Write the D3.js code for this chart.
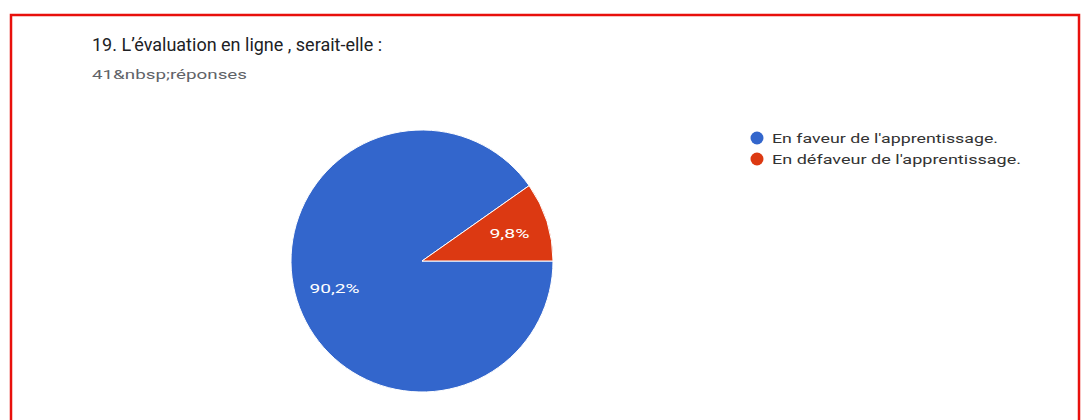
<!DOCTYPE html>
<html>
<head>
<meta charset="utf-8">
<script src="https://cdn.jsdelivr.net/npm/d3@7/dist/d3.min.js"></script>
<style>
  html, body { margin: 0; padding: 0; background: #fff; }
  svg { display: block; }
</style>
</head>
<body>
<svg id="chart" width="1082" height="420"></svg>
<script>
const title = "19. L’évaluation en ligne , serait-elle :";
const subtitle = "41&nbsp;réponses";
const categories = ["En faveur de l'apprentissage.", "En défaveur de l'apprentissage."];
const values = [37, 4];
const percentLabels = ["90,2%", "9,8%"];
const colors = ["#3366cc", "#dc3912"];

const svg = d3.select("#chart");

// frame
svg.append("rect")
  .attr("x", 11).attr("y", 15)
  .attr("width", 1068).attr("height", 420)
  .attr("fill", "#fff")
  .attr("stroke", "#e8100c")
  .attr("stroke-width", 2.5);

svg.append("text")
  .attr("x", 92).attr("y", 51)
  .attr("font-family", "Roboto, 'Open Sans', sans-serif")
  .attr("font-size", 18)
  .attr("fill", "#202124")
  .text(title);

svg.append("text")
  .attr("x", 92).attr("y", 79)
  .attr("font-family", "Roboto, Arial, sans-serif")
  .attr("font-size", 12)
  .attr("fill", "#5f6368")
  .attr("textLength", 155)
  .attr("lengthAdjust", "spacingAndGlyphs")
  .text(subtitle);

const cx = 422, cy = 261, r = 131;
const pie = d3.pie().sort(null)
  .startAngle(Math.PI / 2).endAngle(Math.PI / 2 + 2 * Math.PI);
const arcs = pie(values);
const arc = d3.arc().innerRadius(0).outerRadius(r);
const labelArc = d3.arc().innerRadius(r * 0.7).outerRadius(r * 0.7);

const g = svg.append("g").attr("transform", `translate(${cx},${cy})`);
g.selectAll("path").data(arcs).join("path")
  .attr("d", arc)
  .attr("fill", (d, i) => colors[i])
  .attr("stroke", "#fff")
  .attr("stroke-width", 1);

const labelWidths = [50, 40];
g.selectAll("text.lbl").data(arcs).join("text")
  .attr("class", "lbl")
  .attr("x", (d, i) => labelArc.centroid(d)[0] - labelWidths[i] / 2)
  .attr("y", d => labelArc.centroid(d)[1])
  .attr("dominant-baseline", "central")
  .attr("font-family", "Roboto, Arial, sans-serif")
  .attr("font-size", 13)
  .attr("fill", "#fff")
  .attr("textLength", (d, i) => labelWidths[i])
  .attr("lengthAdjust", "spacingAndGlyphs")
  .text((d, i) => percentLabels[i]);

const legendWidths = [226, 249];
const legend = svg.append("g").attr("transform", "translate(757,138)");
const items = legend.selectAll("g").data(categories).join("g")
  .attr("transform", (d, i) => `translate(0,${i * 21})`);
items.append("circle").attr("r", 6.5).attr("fill", (d, i) => colors[i]);
items.append("text")
  .attr("x", 15).attr("y", 0)
  .attr("dominant-baseline", "central")
  .attr("font-family", "Roboto, Arial, sans-serif")
  .attr("font-size", 13)
  .attr("fill", "#333")
  .attr("textLength", (d, i) => legendWidths[i])
  .attr("lengthAdjust", "spacingAndGlyphs")
  .text(d => d);
</script>
</body>
</html>
